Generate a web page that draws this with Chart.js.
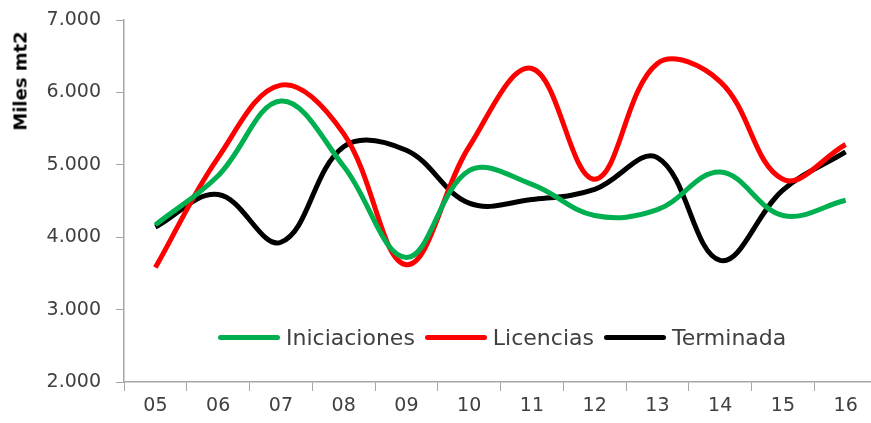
<!DOCTYPE html>
<html>
<head>
<meta charset="utf-8">
<script src="https://cdn.jsdelivr.net/npm/chart.js@4.4.1/dist/chart.umd.min.js"></script>
<style>
  html, body { margin: 0; padding: 0; background: #fff; overflow: hidden; }
  #wrap { position: relative; width: 880px; height: 423px; }
  #yTitle {
    position: absolute; left: 20px; top: 81px;
    transform: translate(-50%, -50%) rotate(-90deg);
    font: bold 18px "DejaVu Sans", sans-serif; color: #000; white-space: nowrap;
  }
  #legend {
    position: absolute; left: 218px; top: 325px; display: flex; align-items: center;
    font: 22px "DejaVu Sans", sans-serif; color: #404040; white-space: nowrap;
  }
  #legend .item { display: flex; align-items: center; margin-right: 10px; }
  #legend .swatch { width: 62px; height: 5px; border-radius: 3px; margin-right: 6px; }
</style>
</head>
<body>
<div id="wrap">
  <canvas id="myChart" width="880" height="423"></canvas>
  <div id="yTitle">Miles mt2</div>
  <div id="legend"></div>
</div>
<script>
// Data (miles de m2)
var years = ["05", "06", "07", "08", "09", "10", "11", "12", "13", "14", "15", "16"];
var iniciaciones = [4170, 4850, 5880, 4980, 3720, 4920, 4730, 4300, 4380, 4900, 4300, 4510];
var licencias = [3580, 5100, 6100, 5430, 3620, 5250, 6330, 4800, 6400, 6150, 4800, 5280];
var terminada = [4140, 4590, 3930, 5250, 5200, 4470, 4520, 4660, 5100, 3680, 4650, 5180];
var yTicks = [2000, 3000, 4000, 5000, 6000, 7000];

function fmt(v) {
  // 7000 -> "7.000"
  return String(v).replace(/\B(?=(\d{3})+(?!\d))/g, ".");
}

function series(label, data, color) {
  return {
    label: label,
    data: data,
    borderColor: color,
    backgroundColor: color,
    borderWidth: 5,
    tension: 0.38,
    pointRadius: 0,
    fill: false
  };
}

var chart = new Chart(document.getElementById('myChart'), {
  type: 'line',
  data: {
    labels: years,
    datasets: [
      series("Iniciaciones", iniciaciones, "#00B050"),
      series("Licencias", licencias, "#FF0000"),
      series("Terminada", terminada, "#000000")
    ]
  },
  options: {
    responsive: false,
    animation: false,
    layout: { padding: { top: 20, right: 3, left: 0, bottom: 0 } },
    plugins: { legend: { display: false }, tooltip: { enabled: false } },
    scales: {
      x: {
        offset: true,
        grid: { offset: true, drawOnChartArea: false, drawTicks: true, tickLength: 9, color: '#a6a6a6' },
        border: { color: '#a6a6a6', width: 1.5 },
        ticks: { color: '#404040', font: { family: 'DejaVu Sans', size: 19 }, padding: 4, maxRotation: 0 },
        afterFit: function (s) { s.height = 41; }
      },
      y: {
        min: 2000,
        max: 7000,
        afterBuildTicks: function (s) { s.ticks = yTicks.map(function (v) { return { value: v }; }); },
        grid: { drawOnChartArea: false, drawTicks: true, tickLength: 8, color: '#a6a6a6' },
        border: { color: '#a6a6a6', width: 1.5 },
        ticks: {
          color: '#404040', font: { family: 'DejaVu Sans', size: 19 }, padding: 15,
          callback: function (v) { return fmt(v); }
        },
        afterFit: function (s) { s.width = 124; s.paddingTop = 0; s.paddingBottom = 0; }
      }
    }
  }
});

// HTML legend built from the datasets
var lg = document.getElementById('legend');
chart.data.datasets.forEach(function (ds) {
  var it = document.createElement('div');
  it.className = 'item';
  it.innerHTML = '<span class="swatch" style="background:' + ds.borderColor + '"></span>' + ds.label;
  lg.appendChild(it);
});
</script>
</body>
</html>
